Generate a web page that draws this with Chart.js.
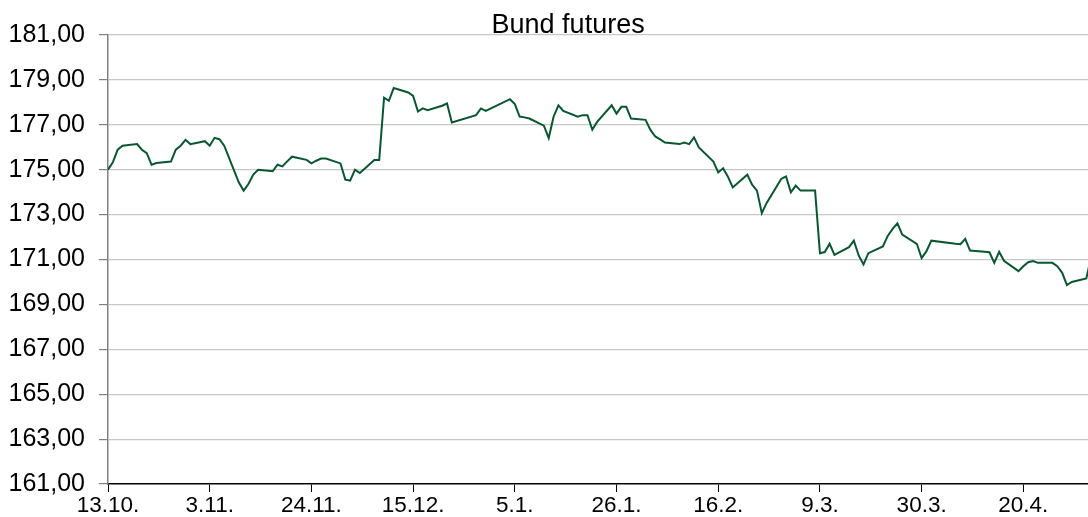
<!DOCTYPE html>
<html>
<head>
<meta charset="utf-8">
<script src="https://cdn.jsdelivr.net/npm/chart.js@4.4.0/dist/chart.umd.min.js"></script>
<style>
html,body{margin:0;padding:0;background:#fff;}
#caja{width:1088px;height:517px;position:relative;}
</style>
</head>
<body>
<div id="caja"><canvas id="grafico"></canvas></div>
<script>
// datos (cierre diario)
const titulo = 'Bund futures';

const fechas = [
    '2020-10-13','2020-10-14','2020-10-15','2020-10-16','2020-10-19','2020-10-20','2020-10-21','2020-10-22','2020-10-23',
    '2020-10-26','2020-10-27','2020-10-28','2020-10-29','2020-10-30',
    '2020-11-02','2020-11-03','2020-11-04','2020-11-05','2020-11-06',
    '2020-11-09','2020-11-10','2020-11-11','2020-11-12','2020-11-13',
    '2020-11-16','2020-11-17','2020-11-18','2020-11-19','2020-11-20',
    '2020-11-23','2020-11-24','2020-11-25','2020-11-26','2020-11-27',
    '2020-11-30','2020-12-01','2020-12-02','2020-12-03','2020-12-04',
    '2020-12-07','2020-12-08','2020-12-09','2020-12-10','2020-12-11',
    '2020-12-14','2020-12-15','2020-12-16','2020-12-17','2020-12-18',
    '2020-12-21','2020-12-22','2020-12-23',
    '2020-12-28','2020-12-29','2020-12-30',
    '2021-01-04','2021-01-05','2021-01-06','2021-01-07','2021-01-08',
    '2021-01-11','2021-01-12','2021-01-13','2021-01-14','2021-01-15',
    '2021-01-18','2021-01-19','2021-01-20','2021-01-21','2021-01-22',
    '2021-01-25','2021-01-26','2021-01-27','2021-01-28','2021-01-29',
    '2021-02-01','2021-02-02','2021-02-03','2021-02-04','2021-02-05',
    '2021-02-08','2021-02-09','2021-02-10','2021-02-11','2021-02-12',
    '2021-02-15','2021-02-16','2021-02-17','2021-02-18','2021-02-19',
    '2021-02-22','2021-02-23','2021-02-24','2021-02-25','2021-02-26',
    '2021-03-01','2021-03-02','2021-03-03','2021-03-04','2021-03-05',
    '2021-03-08','2021-03-09','2021-03-10','2021-03-11','2021-03-12',
    '2021-03-15','2021-03-16','2021-03-17','2021-03-18','2021-03-19',
    '2021-03-22','2021-03-23','2021-03-24','2021-03-25','2021-03-26',
    '2021-03-29','2021-03-30','2021-03-31','2021-04-01',
    '2021-04-06','2021-04-07','2021-04-08','2021-04-09',
    '2021-04-12','2021-04-13','2021-04-14','2021-04-15','2021-04-16',
    '2021-04-19','2021-04-20','2021-04-21','2021-04-22','2021-04-23',
    '2021-04-26','2021-04-27','2021-04-28','2021-04-29','2021-04-30',
    '2021-05-03','2021-05-04'
];

const valores = [
    175.00,175.33,175.89,176.07,176.14,175.89,175.74,175.22,175.30,
    175.36,175.89,176.07,176.33,176.14,
    176.27,176.07,176.42,176.36,176.07,
    174.44,174.07,174.36,174.78,175.00,
    174.93,175.22,175.15,175.37,175.58,
    175.44,175.28,175.40,175.50,175.50,
    175.28,174.56,174.51,175.00,174.85,
    175.43,175.43,178.21,178.07,178.64,
    178.44,178.29,177.59,177.73,177.65,
    177.85,177.95,177.10,
    177.43,177.73,177.62,
    178.14,177.92,177.37,177.33,177.28,
    176.96,176.41,177.36,177.87,177.62,
    177.36,177.43,177.43,176.78,177.13,
    177.87,177.50,177.80,177.80,177.28,
    177.22,176.77,176.48,176.35,176.21,
    176.14,176.21,176.14,176.44,175.99,
    175.36,174.88,175.06,174.69,174.21,
    174.78,174.33,174.07,173.06,173.52,
    174.59,174.70,173.99,174.29,174.07,
    174.07,171.28,171.33,171.70,171.21,
    171.55,171.84,171.18,170.78,171.28,
    171.58,172.05,172.36,172.61,172.11,
    171.70,171.06,171.37,171.84,
    171.70,171.68,171.92,171.40,
    171.34,171.32,170.85,171.34,170.94,
    170.48,170.70,170.88,170.93,170.85,
    170.85,170.70,170.42,169.86,170.00,
    170.16,171.10
];

// fechas de las marcas del eje x (cada 3 semanas)
const fechasTicks = ['2020-10-13','2020-11-03','2020-11-24','2020-12-15','2021-01-05',
                     '2021-01-26','2021-02-16','2021-03-09','2021-03-30','2021-04-20'];

const yMin = 161, yMax = 181, yPaso = 2;

const base = Date.UTC(2020, 9, 13);
function dias(f){
    let p = f.split('-');
    return (Date.UTC(+p[0], +p[1]-1, +p[2]) - base) / 86400000;
}
function etiqueta(d){
    let f = new Date(base + d*86400000);
    return f.getUTCDate() + '.' + (f.getUTCMonth()+1) + '.';
}

let puntos = fechas.map((f,i) => ({x: dias(f), y: valores[i]}));
let ticksX = fechasTicks.map(dias);
let fuente = "'Liberation Sans', Arial, Helvetica, sans-serif";

// titulo: en el original no esta centrado sobre el lienzo, va un poco a la derecha
const tituloPlugin = {
    id: 'tituloPlugin',
    afterDraw: function(chart){
        let ctx = chart.ctx;
        let area = chart.chartArea;
        ctx.save();
        ctx.font = '27px ' + fuente;
        ctx.fillStyle = '#000';
        ctx.textAlign = 'center';
        ctx.textBaseline = 'alphabetic';
        ctx.fillText(titulo, area.left + area.width * 0.4695, area.top - 2);
        ctx.restore();
    }
};

let canvas = document.getElementById('grafico').getContext('2d');
let G1 = new Chart(canvas, {
    type: 'line',
    data: {
        datasets: [{
            label: titulo,
            data: puntos,
            borderColor: '#0a5631',
            borderWidth: 2,
            pointRadius: 0,
            tension: 0,
            fill: false
        }]
    },
    options: {
        responsive: true,
        maintainAspectRatio: false,
        animation: false,
        layout: {padding: {top: 35}},
        plugins: {
            legend: {display: false},
            tooltip: {enabled: false},
            title: {display: false}
        },
        scales: {
            x: {
                type: 'linear',
                min: 0,
                max: 202.35,
                afterFit: function(s){ s.height = 33; },
                afterBuildTicks: function(s){ s.ticks = ticksX.map(v => ({value: v})); },
                grid: {drawOnChartArea: false, drawTicks: true, tickLength: 8, color: '#000', lineWidth: 1},
                border: {display: true, color: '#000', width: 1.5},
                ticks: {
                    color: '#000',
                    font: {family: fuente, size: 22.5, lineHeight: 1},
                    padding: 2.5,
                    maxRotation: 0,
                    autoSkip: false,
                    callback: function(v){ return etiqueta(v); }
                }
            },
            y: {
                min: yMin,
                max: yMax,
                afterFit: function(s){ s.width = 108; },
                grid: {
                    color: function(c){ return c.tick && c.tick.value === yMin ? 'rgba(0,0,0,0)' : '#c8c8c8'; },
                    lineWidth: 1.2,
                    tickLength: 9,
                    tickColor: '#808080'
                },
                border: {display: true, color: '#808080', width: 1.5},
                ticks: {
                    stepSize: yPaso,
                    color: '#000',
                    font: {family: fuente, size: 25},
                    padding: 14,
                    callback: function(v){ return v.toFixed(2).replace('.', ','); }
                }
            }
        }
    },
    plugins: [tituloPlugin]
});
</script>
</body>
</html>
